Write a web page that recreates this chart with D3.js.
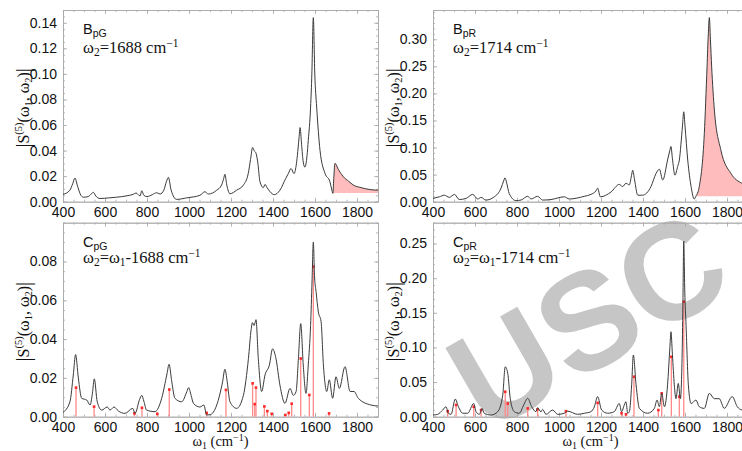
<!DOCTYPE html>
<html>
<head>
<meta charset="utf-8">
<script src="https://cdn.jsdelivr.net/npm/d3@7"></script>
<style>
  html, body { margin: 0; padding: 0; background: #fff; }
  svg { display: block; }
  .tick text { font-family: "Liberation Sans", Arial, Helvetica, sans-serif; font-size: 14px; fill: #111; }
</style>
</head>
<body>
<svg id="chart" width="742" height="451"></svg>
<script>
// Wavenumber axis shared by every panel
const xDomain = [400, 1900];
const xMajorTicks = [400, 600, 800, 1000, 1200, 1400, 1600, 1800];

// Panel B_pG : |S(5)| at fixed ω2 = 1688 cm-1
const bpgW = [400, 433, 446, 457, 468, 482, 497, 520, 537, 545, 556, 576, 620, 655, 700, 735, 748, 767, 775, 785, 800, 825, 846, 862, 880, 893, 902, 915, 941, 989, 1052, 1076, 1092, 1132, 1155, 1165, 1171, 1180, 1195, 1227, 1259, 1282, 1293, 1303, 1310, 1319, 1328, 1338, 1354, 1362, 1372, 1386, 1406, 1433, 1460, 1473, 1486, 1500, 1510, 1516, 1524, 1529, 1536, 1544, 1552, 1562, 1568, 1579, 1585, 1592, 1599, 1608, 1624, 1648, 1671, 1679, 1685, 1690, 1695, 1712, 1735, 1760, 1783, 1820, 1862, 1900];
const bpgV = [0.0057, 0.009, 0.014, 0.0185, 0.013, 0.006, 0.0035, 0.004, 0.0065, 0.0073, 0.0045, 0.0025, 0.003, 0.0035, 0.0045, 0.0058, 0.0068, 0.0045, 0.0086, 0.005, 0.004, 0.0055, 0.007, 0.006, 0.009, 0.016, 0.019, 0.009, 0.0018, 0.003, 0.005, 0.0078, 0.006, 0.009, 0.013, 0.018, 0.0215, 0.013, 0.0062, 0.009, 0.013, 0.022, 0.033, 0.0425, 0.04, 0.038, 0.03, 0.0156, 0.011, 0.0135, 0.011, 0.0078, 0.0055, 0.009, 0.018, 0.022, 0.026, 0.022, 0.028, 0.036, 0.05, 0.058, 0.045, 0.031, 0.027, 0.036, 0.048, 0.074, 0.1, 0.144, 0.1, 0.074, 0.04, 0.022, 0.0156, 0.01, 0.0065, 0.02, 0.03, 0.025, 0.0195, 0.016, 0.013, 0.011, 0.0095, 0.009];
const bpgFillFrom = 1685;
const bpgFillBase = 0.0068;

// Panel B_pR : |S(5)| at fixed ω2 = 1714 cm-1
const bprW = [400, 430, 454, 478, 502, 525, 557, 589, 613, 629, 652, 692, 724, 736, 743, 750, 763, 795, 819, 851, 867, 898, 922, 962, 1025, 1049, 1121, 1152, 1176, 1184, 1197, 1248, 1287, 1303, 1319, 1335, 1345, 1351, 1360, 1375, 1398, 1438, 1462, 1478, 1494, 1517, 1528, 1533, 1540, 1552, 1565, 1573, 1588, 1594, 1600, 1613, 1629, 1644, 1652, 1668, 1692, 1705, 1711, 1716, 1721, 1727, 1740, 1771, 1819, 1871, 1900];
const bprV = [0.006, 0.009, 0.012, 0.008, 0.0135, 0.004, 0.006, 0.0135, 0.005, 0.008, 0.003, 0.009, 0.025, 0.038, 0.044, 0.036, 0.015, 0.002, 0.003, 0.01, 0.005, 0.01, 0.003, 0.004, 0.009, 0.005, 0.01, 0.0135, 0.02, 0.025, 0.009, 0.018, 0.032, 0.028, 0.034, 0.031, 0.048, 0.058, 0.04, 0.012, 0.012, 0.028, 0.052, 0.06, 0.04, 0.077, 0.095, 0.102, 0.08, 0.049, 0.065, 0.077, 0.14, 0.166, 0.14, 0.077, 0.028, 0.005, 0.01, 0.028, 0.126, 0.249, 0.31, 0.34, 0.3, 0.249, 0.169, 0.095, 0.052, 0.034, 0.03];
const bprFillFrom = 1652;
const bprFillBase = 0.01;

// Panel C_pG : |S(5)| along ω2 = ω1 - 1688 cm-1
const cpgW = [400, 433, 449, 460, 473, 489, 513, 529, 540, 549, 563, 584, 611, 624, 643, 663, 695, 732, 743, 765, 775, 785, 798, 838, 870, 895, 905, 918, 933, 965, 990, 998, 1010, 1021, 1052, 1071, 1084, 1100, 1132, 1160, 1171, 1182, 1195, 1227, 1259, 1283, 1296, 1302, 1310, 1319, 1330, 1346, 1362, 1383, 1398, 1414, 1433, 1457, 1481, 1497, 1510, 1521, 1532, 1544, 1557, 1568, 1579, 1586, 1592, 1598, 1605, 1616, 1629, 1640, 1656, 1668, 1684, 1700, 1716, 1743, 1767, 1786, 1806, 1867, 1900];
const cpgV = [0.0022, 0.0077, 0.0215, 0.032, 0.02, 0.0095, 0.0086, 0.006, 0.012, 0.0195, 0.0077, 0.0034, 0.005, 0.0034, 0.005, 0.003, 0.0017, 0.0043, 0.0017, 0.009, 0.011, 0.008, 0.0034, 0.0026, 0.0095, 0.022, 0.027, 0.018, 0.0095, 0.0077, 0.013, 0.015, 0.011, 0.0069, 0.005, 0.006, 0.0009, 0.001, 0.006, 0.018, 0.0245, 0.018, 0.0077, 0.0043, 0.011, 0.03, 0.045, 0.0485, 0.047, 0.05, 0.03, 0.013, 0.0215, 0.0267, 0.035, 0.03, 0.0163, 0.0069, 0.0146, 0.011, 0.013, 0.03, 0.048, 0.0267, 0.012, 0.0267, 0.047, 0.07, 0.09, 0.072, 0.0645, 0.054, 0.049, 0.0267, 0.013, 0.019, 0.0095, 0.0206, 0.0146, 0.0258, 0.013, 0.013, 0.0095, 0.006, 0.0055];
// Computed normal-mode contributions (sticks) for C_pG
const cpgStickW = [462, 548, 740, 776, 849, 906, 1084, 1176, 1303, 1313, 1319, 1359, 1373, 1394, 1459, 1475, 1489, 1532, 1573, 1592, 1667];
const cpgStickV = [0.015, 0.0052, 0.0017, 0.0046, 0.0015, 0.014, 0.002, 0.0138, 0.0172, 0.0065, 0.015, 0.0053, 0.0029, 0.0015, 0.0009, 0.002, 0.0067, 0.030, 0.0112, 0.0774, 0.0017];

// Panel C_pR : |S(5)| along ω2 = ω1 - 1714 cm-1
const cprW = [400, 422, 446, 462, 473, 486, 506, 521, 541, 565, 594, 605, 621, 633, 644, 676, 708, 732, 744, 756, 768, 787, 811, 832, 851, 870, 890, 898, 914, 922, 938, 970, 994, 1025, 1041, 1089, 1121, 1152, 1168, 1184, 1203, 1232, 1263, 1287, 1298, 1311, 1319, 1327, 1335, 1346, 1354, 1367, 1383, 1422, 1454, 1467, 1478, 1489, 1502, 1517, 1528, 1533, 1540, 1549, 1557, 1568, 1578, 1586, 1590, 1594, 1599, 1605, 1616, 1629, 1652, 1668, 1692, 1716, 1740, 1763, 1787, 1825, 1849, 1871, 1900];
const cprV = [0.0024, 0.0034, 0.0096, 0.0144, 0.005, 0.0034, 0.0255, 0.0144, 0.005, 0.005, 0.019, 0.0072, 0.0034, 0.012, 0.005, 0.0024, 0.0072, 0.031, 0.072, 0.0625, 0.026, 0.0072, 0.005, 0.017, 0.0265, 0.0144, 0.0072, 0.013, 0.007, 0.0106, 0.0034, 0.0096, 0.0034, 0.005, 0.008, 0.0034, 0.005, 0.0072, 0.014, 0.029, 0.0096, 0.005, 0.0072, 0.019, 0.0072, 0.017, 0.0216, 0.005, 0.0072, 0.046, 0.089, 0.046, 0.012, 0.005, 0.012, 0.024, 0.0144, 0.0337, 0.0144, 0.046, 0.1, 0.1226, 0.09, 0.046, 0.026, 0.048, 0.026, 0.084, 0.16, 0.2534, 0.18, 0.132, 0.046, 0.019, 0.024, 0.0144, 0.012, 0.0337, 0.026, 0.026, 0.012, 0.029, 0.0144, 0.0096, 0.008];
const cprStickW = [470, 510, 594, 629, 744, 756, 851, 898, 1033, 1184, 1298, 1319, 1357, 1473, 1489, 1535, 1573, 1594];
const cprStickV = [0.008, 0.017, 0.0144, 0.0096, 0.036, 0.019, 0.012, 0.0106, 0.008, 0.020, 0.005, 0.0034, 0.0577, 0.0096, 0.0337, 0.0865, 0.029, 0.166];

// Y tick values per panel
const bpgYTicks = [0, 0.02, 0.04, 0.06, 0.08, 0.10, 0.12, 0.14];
const bprYTicks = [0, 0.05, 0.10, 0.15, 0.20, 0.25, 0.30];
const cpgYTicks = [0, 0.02, 0.04, 0.06, 0.08];
const cprYTicks = [0, 0.05, 0.10, 0.15, 0.20, 0.25];

const zip = (w, v) => w.map((d, i) => ({ w: d, v: v[i] }));

const panels = [
  { name: "B", sub: "pG", eq: "fixed", num: "1688", box: [63, 378, 10, 201.7], yMax: 0.15, yTicks: bpgYTicks, yMinor: 0.005,
    curve: zip(bpgW, bpgV), fill: { from: bpgFillFrom, base: bpgFillBase }, xTitle: false, lblY: [33.5, 52.7] },
  { name: "B", sub: "pR", eq: "fixed", num: "1714", box: [433, 748, 10, 201.7], yMax: 0.354, yTicks: bprYTicks, yMinor: 0.01,
    curve: zip(bprW, bprV), fill: { from: bprFillFrom, base: bprFillBase }, xTitle: false, lblY: [33.5, 52.7] },
  { name: "C", sub: "pG", eq: "diag", num: "1688", box: [63, 378, 222.7, 416.7], yMax: 0.1, yTicks: cpgYTicks, yMinor: 0.005,
    curve: zip(cpgW, cpgV), sticks: zip(cpgStickW, cpgStickV), xTitle: true, lblY: [247, 263] },
  { name: "C", sub: "pR", eq: "diag", num: "1714", box: [433, 748, 222.7, 416.7], yMax: 0.28, yTicks: cprYTicks, yMinor: 0.01,
    curve: zip(cprW, cprV), sticks: zip(cprStickW, cprStickV), xTitle: true, lblY: [247, 263] }
];

const svg = d3.select("#chart");
const serif = '"Liberation Serif", "Times New Roman", serif';
const sans = '"Liberation Sans", Arial, Helvetica, sans-serif';
const frameColor = "#a8a8a8";

// watermark layer sits underneath the panels
const wm = svg.append("g").attr("class", "watermark-layer");

panels.forEach((p, idx) => {
  const [x0, x1, y0, y1] = p.box;
  const x = d3.scaleLinear().domain(xDomain).range([x0, x1]);
  const y = d3.scaleLinear().domain([0, p.yMax]).range([y1, y0]);
  const g = svg.append("g").attr("class", "panel");

  const clipId = "clip" + idx;
  svg.append("defs").append("clipPath").attr("id", clipId)
    .append("rect").attr("x", x0).attr("y", y0).attr("width", x1 - x0).attr("height", y1 - y0);

  // minor ticks, all four sides
  const xMinor = d3.range(xDomain[0], xDomain[1] + 1, 50);
  const yMinorVals = d3.range(0, p.yMax + 1e-9, p.yMinor);
  const styleAxis = sel => {
    sel.selectAll(".domain").attr("stroke", frameColor).attr("stroke-width", 0.8);
    sel.selectAll(".tick line").attr("stroke", frameColor).attr("stroke-width", 0.8);
  };
  g.append("g").attr("transform", `translate(0,${y1})`)
    .call(d3.axisBottom(x).tickValues(xMinor).tickFormat("").tickSize(-2).tickSizeOuter(0)).call(styleAxis);
  g.append("g").attr("transform", `translate(0,${y0})`)
    .call(d3.axisTop(x).tickValues(xMinor).tickFormat("").tickSize(-2).tickSizeOuter(0)).call(styleAxis);
  g.append("g").attr("transform", `translate(${x0},0)`)
    .call(d3.axisLeft(y).tickValues(yMinorVals).tickFormat("").tickSize(-2).tickSizeOuter(0)).call(styleAxis);
  g.append("g").attr("transform", `translate(${x1},0)`)
    .call(d3.axisRight(y).tickValues(yMinorVals).tickFormat("").tickSize(-2).tickSizeOuter(0)).call(styleAxis);

  // major ticks with labels
  const xa = g.append("g").attr("transform", `translate(0,${y1})`)
    .call(d3.axisBottom(x).tickValues(xMajorTicks).tickFormat(d3.format("d")).tickSize(-4).tickSizeOuter(0).tickPadding(6));
  styleAxis(xa);
  xa.selectAll(".tick text").attr("dy", "0.71em").attr("y", 5.5);
  const ya = g.append("g").attr("transform", `translate(${x0},0)`)
    .call(d3.axisLeft(y).tickValues(p.yTicks).tickFormat(d3.format(".2f")).tickSize(-4).tickSizeOuter(0).tickPadding(6));
  styleAxis(ya);
  g.append("g").attr("transform", `translate(0,${y0})`)
    .call(d3.axisTop(x).tickValues(xMajorTicks).tickFormat("").tickSize(-4).tickSizeOuter(0)).call(styleAxis);
  g.append("g").attr("transform", `translate(${x1},0)`)
    .call(d3.axisRight(y).tickValues(p.yTicks).tickFormat("").tickSize(-4).tickSizeOuter(0)).call(styleAxis);

  const plot = g.append("g").attr("clip-path", `url(#${clipId})`);

  // shaded region under the tail of the spectrum
  if (p.fill) {
    const seg = p.curve.filter(d => d.w >= p.fill.from);
    const area = d3.area().x(d => x(d.w)).y0(y(p.fill.base)).y1(d => y(d.v)).curve(d3.curveMonotoneX);
    plot.append("path").datum(seg).attr("d", area).attr("fill", "#ffbcbc").attr("stroke", "none");
  }

  // stick spectrum
  if (p.sticks) {
    plot.selectAll("line.stick").data(p.sticks).join("line")
      .attr("class", "stick")
      .attr("x1", d => x(d.w)).attr("x2", d => x(d.w))
      .attr("y1", y(0)).attr("y2", d => y(d.v))
      .attr("stroke", "#ff8a8a").attr("stroke-width", 1.3);
    plot.selectAll("rect.cap").data(p.sticks).join("rect")
      .attr("class", "cap")
      .attr("x", d => x(d.w) - 1.3).attr("y", d => y(d.v) - 1.3)
      .attr("width", 2.6).attr("height", 2.6).attr("fill", "#ff2a2a");
  }

  // spectrum curve
  const line = d3.line().x(d => x(d.w)).y(d => y(d.v)).curve(d3.curveMonotoneX);
  plot.append("path").datum(p.curve).attr("d", line)
    .attr("fill", "none").attr("stroke", "#3a3a3a").attr("stroke-width", 1);

  // panel label
  const lx = x0 + 20;
  const t1 = g.append("text").attr("x", lx).attr("y", p.lblY[0])
    .attr("font-family", sans).attr("font-size", 14.5).attr("fill", "#111");
  t1.append("tspan").text(p.name);
  t1.append("tspan").attr("font-size", 10.5).attr("dy", 3).text(p.sub);

  const t2 = g.append("text").attr("x", lx).attr("y", p.lblY[1])
    .attr("font-family", serif).attr("font-size", 16.5).attr("fill", "#111");
  t2.append("tspan").text("ω");
  t2.append("tspan").attr("font-size", 11.5).attr("dy", 3).text("2");
  if (p.eq === "fixed") {
    t2.append("tspan").attr("dy", -3).text("=" + p.num + " cm");
  } else {
    t2.append("tspan").attr("dy", -3).text("=ω");
    t2.append("tspan").attr("font-size", 11.5).attr("dy", 3).text("1");
    t2.append("tspan").attr("dy", -3).text("-" + p.num + " cm");
  }
  t2.append("tspan").attr("font-size", 11.5).attr("dy", -6).text("−1");

  // y axis title
  const yt = g.append("text")
    .attr("transform", `translate(${x0 - 34},${(y0 + y1) / 2 + 2}) rotate(-90)`)
    .attr("text-anchor", "middle").attr("font-family", serif).attr("font-size", 16).attr("fill", "#111");
  yt.append("tspan").attr("font-size", 20).attr("dy", 1).text("|");
  yt.append("tspan").attr("dy", -1).text("S");
  yt.append("tspan").attr("font-size", 10.5).attr("dy", -7).text("(5)");
  yt.append("tspan").attr("dy", 7).text("(ω");
  yt.append("tspan").attr("font-size", 10.5).attr("dy", 3).text("1");
  yt.append("tspan").attr("dy", -3).text(", ω");
  yt.append("tspan").attr("font-size", 10.5).attr("dy", 3).text("2");
  yt.append("tspan").attr("dy", -3).text(")");
  yt.append("tspan").attr("font-size", 20).attr("dy", 1).text("|");

  // x axis title
  if (p.xTitle) {
    const xt = g.append("text").attr("x", (x0 + x1) / 2).attr("y", 446)
      .attr("text-anchor", "middle").attr("font-family", serif).attr("font-size", 14.5).attr("fill", "#111");
    xt.append("tspan").text("ω");
    xt.append("tspan").attr("font-size", 10).attr("dy", 2.5).text("1");
    xt.append("tspan").attr("dy", -2.5).text(" (cm");
    xt.append("tspan").attr("font-size", 10).attr("dy", -5.5).text("−1");
    xt.append("tspan").attr("dy", 5.5).text(")");
  }
});

// institutional watermark
wm.append("text")
  .attr("transform", "translate(588,320) rotate(-30)")
  .attr("text-anchor", "middle").attr("dominant-baseline", "central")
  .attr("font-family", sans).attr("font-weight", "bold").attr("font-size", 138)
  .attr("fill", "#c6c6c6").text("USC");
</script>
</body>
</html>
